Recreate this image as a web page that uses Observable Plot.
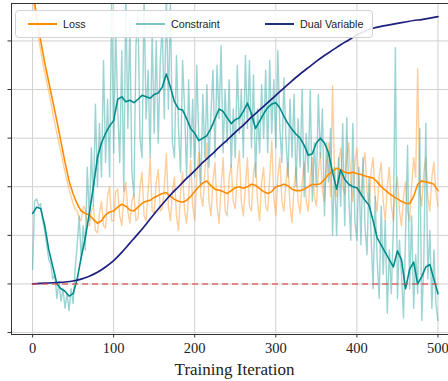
<!DOCTYPE html>
<html><head><meta charset="utf-8">
<script src="https://cdn.jsdelivr.net/npm/d3@7"></script>
<script src="https://cdn.jsdelivr.net/npm/@observablehq/plot@0.6"></script>
<style>
html,body{margin:0;padding:0;background:#fff;}
#wrap{position:relative;width:448px;height:381px;overflow:hidden;}
#wrap svg{display:block;}
.legend{position:absolute;left:15px;top:10px;width:358px;height:28px;box-sizing:border-box;border:1px solid #d3d3d3;border-radius:4px;background:rgba(255,255,255,0.88);font-family:"Liberation Sans",Arial,sans-serif;font-size:10.7px;color:#222;}
.item{position:absolute;top:0;height:26px;display:flex;align-items:center;white-space:nowrap;}
.sw{display:inline-block;width:29px;height:0;border-top:2px solid;margin-right:6px;}
</style></head>
<body>
<div id="wrap"></div>
<script>
// iterations: raw series every 2.5, smoothed every 5, dual variable every 10
const rawIters = d3.range(0, 500.1, 2.5);
const iters = d3.range(0, 501, 5);
const dualIters = d3.range(0, 501, 10);

const lossRaw = [6.0,5.6,5.3,5.05,4.8,4.55,4.35,4.15,3.95,3.75,
3.5,3.3,3.1,2.9,2.7,2.5,2.3,2.12,1.95,1.8,
1.65,1.55,1.5,1.35,1.3,1.6,1.55,1.2,1.2,1.5,
1.6,1.1,1.05,1.45,1.7,1.2,1.15,1.8,2.0,1.3,
1.3,1.9,1.95,1.4,1.2,1.8,2.1,1.5,1.25,1.7,
1.85,1.3,1.35,2.0,2.3,1.4,1.3,1.9,2.6,1.5,
1.45,2.1,2.35,1.5,1.55,2.0,2.68,1.6,1.3,1.9,
2.2,1.4,1.1,1.9,2.3,1.5,1.25,1.8,2.55,1.6,
1.3,2.2,2.7,1.8,1.6,2.3,2.9,1.7,1.4,2.1,
2.5,1.6,1.24,2.0,2.6,1.5,1.4,2.2,2.45,1.7,
1.55,2.3,2.74,1.7,1.4,2.0,2.6,1.6,1.5,2.3,
2.5,1.7,1.3,2.1,2.4,1.6,1.5,2.2,2.95,1.8,
1.4,2.2,2.6,1.7,1.5,2.1,2.5,1.6,1.26,2.0,
2.4,1.7,1.45,2.1,2.5,1.7,1.5,2.2,2.6,1.8,
1.6,2.3,2.7,1.9,1.7,2.4,2.9,1.8,4.08,2.2,
1.8,2.5,2.8,2.0,1.85,2.6,2.9,2.1,1.7,2.5,
2.8,2.0,1.8,2.4,2.7,1.9,1.6,2.3,2.6,1.8,
1.5,2.2,2.5,1.7,1.3,2.0,2.4,1.6,1.3,1.9,
2.2,1.5,1.2,1.8,2.1,1.5,1.3,2.0,2.6,2.2,
4.43,1.9,1.6,2.3,2.6,1.8,1.5,2.2,2.5,1.9,
1.6];

const lossSmooth = [6.1,5.5,5.0,4.55,4.15,3.75,3.35,2.93,2.5,2.12,
1.85,1.65,1.5,1.45,1.42,1.33,1.25,1.3,1.42,1.48,
1.5,1.58,1.64,1.6,1.52,1.5,1.58,1.66,1.7,1.72,
1.78,1.82,1.86,1.88,1.8,1.74,1.7,1.68,1.72,1.8,
1.9,2.0,2.08,2.12,2.02,1.95,1.93,1.9,1.86,1.92,
1.98,2.0,1.97,2.0,2.05,2.03,1.96,1.9,1.86,1.9,
2.0,2.02,2.05,2.02,1.95,1.92,1.92,1.95,2.0,2.05,
2.04,2.06,2.15,2.25,2.32,2.38,2.35,2.3,2.28,2.3,
2.27,2.25,2.22,2.2,2.18,2.1,2.0,1.93,1.86,1.8,
1.75,1.7,1.66,1.65,1.8,2.05,2.12,2.1,2.08,2.05,
1.92];

const constraintRaw = [0.3,1.7,1.75,1.6,1.65,1.3,1.1,0.8,0.5,0.4,
0.1,0.2,-0.3,0.05,-0.35,-0.1,-0.5,-0.2,-0.55,-0.1,
-0.4,0.3,0.8,1.4,0.5,1.2,0.7,2.4,1.3,2.8,
1.6,3.7,2.0,3.3,2.2,4.6,2.5,3.8,2.2,5.9,
2.7,5.2,3.6,2.5,4.8,1.9,6.0,3.2,5.4,2.3,
1.8,4.9,5.6,3.0,2.6,5.9,3.4,4.4,2.6,5.2,
3.1,5.0,2.9,4.6,5.3,3.4,6.0,3.6,5.8,2.9,
2.6,4.7,3.2,2.3,4.6,3.6,2.2,4.2,2.6,3.8,
2.2,4.5,3.0,2.0,3.9,2.6,4.1,2.4,3.5,4.4,
2.6,4.5,3.4,4.9,2.7,4.0,2.9,4.2,2.4,3.6,
2.6,4.5,3.1,4.0,2.6,4.7,3.2,4.6,2.8,4.3,
2.2,3.6,2.7,4.1,3.0,4.4,2.7,4.6,3.1,4.2,
2.8,4.8,3.2,2.5,4.24,3.0,2.2,3.8,2.6,3.9,
2.0,3.4,2.4,4.0,1.8,3.1,2.3,3.98,1.7,2.9,
2.0,3.9,2.6,3.6,1.4,2.9,2.1,3.2,1.0,2.4,
1.0,2.6,1.6,3.3,1.2,3.42,1.8,0.9,3.3,1.3,
0.9,2.4,0.8,2.6,1.2,0.6,2.2,1.0,-0.1,1.8,
0.5,-0.3,1.6,0.2,1.3,-0.6,0.7,-0.2,1.2,4.86,
-0.3,0.9,0.2,-0.7,1.0,2.85,-0.1,1.4,-0.5,0.6,
-0.2,3.2,-0.75,0.4,3.3,0.1,1.1,-0.5,0.7,-0.4,
-0.75];

const constraintSmooth = [1.45,1.58,1.55,1.2,0.7,0.35,0.0,-0.1,-0.15,-0.25,
-0.2,0.1,0.55,0.95,1.45,2.0,2.6,2.9,3.1,3.25,
3.36,3.8,3.85,3.75,3.78,3.73,3.8,3.88,3.85,3.82,
3.9,3.93,4.05,4.32,4.05,3.75,3.6,3.58,3.4,3.2,
3.1,2.95,3.0,3.05,3.2,3.4,3.6,3.55,3.42,3.3,
3.38,3.42,3.55,3.72,3.5,3.2,3.35,3.5,3.63,3.7,
3.73,3.62,3.45,3.3,3.18,3.08,3.0,2.85,2.65,2.68,
2.9,3.0,2.9,2.7,2.3,1.95,2.35,2.15,2.05,2.0,
1.98,1.85,1.72,1.62,1.3,0.95,0.8,0.65,0.5,0.35,
0.68,0.5,-0.1,0.3,0.45,0.0,0.15,0.35,0.4,0.1,
-0.2];

const dualVariable = [0,0.01,0.02,0.03,0.04,0.06,0.1,0.16,0.24,0.35,
0.48,0.65,0.84,1.03,1.23,1.44,1.64,1.83,2.0,2.17,
2.33,2.5,2.65,2.81,2.96,3.12,3.27,3.43,3.58,3.73,
3.88,4.03,4.18,4.32,4.45,4.58,4.7,4.81,4.92,5.02,
5.12,5.2,5.26,5.3,5.33,5.36,5.39,5.42,5.44,5.47,
5.5];

const constraintLimit = 0;
const xTicks = [0, 100, 200, 300, 400, 500];
const yTicks = [-1, 0, 1, 2, 3, 4, 5];
const xLabel = "Training Iteration";
const seriesNames = ["Loss", "Constraint", "Dual Variable"];

const rows = (vals, xs) => vals.map((v, i) => ({x: xs[i], y: v}));
const xDom = [-26, 513], yDom = [-1.04, 5.77];

const chart = Plot.plot({
  width: 448, height: 381,
  marginLeft: 11, marginRight: 0, marginTop: 3, marginBottom: 47,
  x: {domain: xDom},
  y: {domain: yDom},
  style: {fontFamily: "'Liberation Serif','Times New Roman',serif", fontSize: "14.5px", color: "#222", background: "#fff"},
  marks: [
    Plot.gridX(xTicks, {stroke: "#d0d0d0", strokeOpacity: 1, strokeWidth: 1}),
    Plot.gridY(yTicks, {stroke: "#d0d0d0", strokeOpacity: 1, strokeWidth: 1}),
    Plot.line(rows(lossRaw, rawIters), {x: "x", y: "y", stroke: "#ffa64d", strokeOpacity: 0.55, strokeWidth: 1.4, clip: true}),
    Plot.line(rows(constraintRaw, rawIters), {x: "x", y: "y", stroke: "#3aa8a8", strokeOpacity: 0.5, strokeWidth: 1.4, clip: true}),
    Plot.line(rows(lossSmooth, iters), {x: "x", y: "y", stroke: "#ff8c00", strokeWidth: 1.6, clip: true}),
    Plot.line(rows(constraintSmooth, iters), {x: "x", y: "y", stroke: "#008b8b", strokeWidth: 1.6, clip: true}),
    Plot.line(rows(dualVariable, dualIters), {x: "x", y: "y", stroke: "#1f1f7f", strokeWidth: 1.7, curve: "monotone-x", clip: true}),
    Plot.ruleY([constraintLimit], {x1: iters[0], x2: iters[iters.length - 1], stroke: "#e04848", strokeOpacity: 0.8, strokeWidth: 1.5, strokeDasharray: "6,4"}),
    Plot.ruleX([xDom[0]], {stroke: "#333", strokeWidth: 1}),
    Plot.ruleY([yDom[0], yDom[1]], {stroke: "#333", strokeWidth: 1}),
    Plot.axisX(xTicks, {tickSize: 3.5, tickPadding: 5, label: null, stroke: "#333", fontSize: 14.5}),
    Plot.axisY(yTicks, {tickSize: 3.5, tickFormat: () => "", label: null, stroke: "#333"}),
    Plot.text([xLabel], {frameAnchor: "bottom", dx: 4.5, dy: 28, lineAnchor: "top", fontSize: 17, fill: "#222"})
  ]
});

const wrap = document.getElementById("wrap");
wrap.appendChild(chart);

const legend = document.createElement("div");
legend.className = "legend";
const legendColors = ["#ff8c00", "#7cc4c4", "#1f2f78"];
const legendLefts = [12, 120, 249];
seriesNames.forEach((name, i) => {
  const it = document.createElement("div");
  it.className = "item";
  it.style.left = legendLefts[i] + "px";
  const sw = document.createElement("span");
  sw.className = "sw";
  sw.style.borderTopColor = legendColors[i];
  it.appendChild(sw);
  it.appendChild(document.createTextNode(name));
  legend.appendChild(it);
});
wrap.appendChild(legend);
</script>
</body></html>
